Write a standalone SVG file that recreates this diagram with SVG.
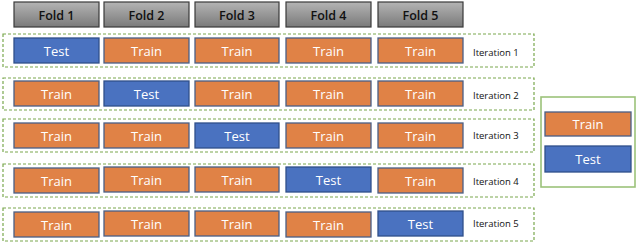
<svg xmlns="http://www.w3.org/2000/svg" width="640" height="245" viewBox="0 0 640 245">
<defs>
<linearGradient id="hg" x1="0" y1="0" x2="0" y2="1">
<stop offset="0" stop-color="#b4b4b4"/>
<stop offset="1" stop-color="#7a7a7a"/>
</linearGradient>
</defs>
<style>
.hdr{fill:url(#hg);stroke:#3a3a3a;stroke-width:1.2}
.htx{font-family:"Open Sans","Liberation Sans",sans-serif;font-size:12.5px;font-weight:600;fill:#111;text-anchor:middle;dominant-baseline:central}
.tr{fill:#e08246;stroke:#4a5f86;stroke-width:1.3}
.te{fill:#4a72c0;stroke:#2f4f8a;stroke-width:1.3}
.ctx{font-family:"Open Sans","Liberation Sans",sans-serif;font-size:13px;fill:#fff;text-anchor:middle;dominant-baseline:central}
.itx{font-family:"Open Sans","Liberation Sans",sans-serif;font-size:9.5px;fill:#111;dominant-baseline:central}
.dash{fill:none;stroke:#7aa84e;stroke-width:1.2;stroke-dasharray:3,2}
.leg{fill:#fff;stroke:#9cc27a;stroke-width:1.6}
</style>
<g id="headers">
<g id="fold1"><rect class="hdr" x="14" y="2" width="85" height="25"/><text class="htx" x="56.5" y="15">Fold 1</text></g>
<g id="fold2"><rect class="hdr" x="104" y="2" width="85" height="25"/><text class="htx" x="146.5" y="15">Fold 2</text></g>
<g id="fold3"><rect class="hdr" x="195" y="2" width="84" height="25"/><text class="htx" x="237" y="15">Fold 3</text></g>
<g id="fold4"><rect class="hdr" x="286" y="2" width="85" height="25"/><text class="htx" x="328.5" y="15">Fold 4</text></g>
<g id="fold5"><rect class="hdr" x="378" y="2" width="85" height="25"/><text class="htx" x="420.5" y="15">Fold 5</text></g>
</g>
<g id="iteration1">
<rect class="dash" x="3" y="34" width="531" height="33"/>
<rect class="te" x="14" y="38" width="85" height="25"/><text class="ctx" x="56.5" y="51">Test</text>
<rect class="tr" x="104" y="38" width="85" height="25"/><text class="ctx" x="146.5" y="51">Train</text>
<rect class="tr" x="195" y="38" width="84" height="25"/><text class="ctx" x="237" y="51">Train</text>
<rect class="tr" x="286" y="38" width="85" height="25"/><text class="ctx" x="328.5" y="51">Train</text>
<rect class="tr" x="378" y="38" width="85" height="25"/><text class="ctx" x="420.5" y="51">Train</text>
<text class="itx" x="473" y="52">Iteration 1</text>
</g>
<g id="iteration2">
<rect class="dash" x="3" y="78" width="531" height="32"/>
<rect class="tr" x="14" y="81" width="85" height="25"/><text class="ctx" x="56.5" y="94">Train</text>
<rect class="te" x="104" y="81" width="85" height="25"/><text class="ctx" x="146.5" y="94">Test</text>
<rect class="tr" x="195" y="81" width="84" height="25"/><text class="ctx" x="237" y="94">Train</text>
<rect class="tr" x="286" y="81" width="85" height="25"/><text class="ctx" x="328.5" y="94">Train</text>
<rect class="tr" x="378" y="81" width="85" height="25"/><text class="ctx" x="420.5" y="94">Train</text>
<text class="itx" x="473" y="95">Iteration 2</text>
</g>
<g id="iteration3">
<rect class="dash" x="3" y="119" width="531" height="33"/>
<rect class="tr" x="14" y="123" width="85" height="25"/><text class="ctx" x="56.5" y="136">Train</text>
<rect class="tr" x="104" y="123" width="85" height="25"/><text class="ctx" x="146.5" y="136">Train</text>
<rect class="te" x="195" y="123" width="84" height="25"/><text class="ctx" x="237" y="136">Test</text>
<rect class="tr" x="286" y="123" width="85" height="25"/><text class="ctx" x="328.5" y="136">Train</text>
<rect class="tr" x="378" y="123" width="85" height="25"/><text class="ctx" x="420.5" y="136">Train</text>
<text class="itx" x="473" y="135">Iteration 3</text>
</g>
<g id="iteration4">
<rect class="dash" x="3" y="164" width="531" height="33"/>
<rect class="tr" x="14" y="168" width="85" height="25"/><text class="ctx" x="56.5" y="181">Train</text>
<rect class="tr" x="104" y="167" width="85" height="25"/><text class="ctx" x="146.5" y="180">Train</text>
<rect class="tr" x="195" y="167" width="84" height="25"/><text class="ctx" x="237" y="180">Train</text>
<rect class="te" x="286" y="167" width="85" height="25"/><text class="ctx" x="328.5" y="180">Test</text>
<rect class="tr" x="378" y="168" width="85" height="25"/><text class="ctx" x="420.5" y="181">Train</text>
<text class="itx" x="473" y="181">Iteration 4</text>
</g>
<g id="iteration5">
<rect class="dash" x="3" y="208" width="531" height="33"/>
<rect class="tr" x="14" y="212" width="85" height="25"/><text class="ctx" x="56.5" y="225">Train</text>
<rect class="tr" x="104" y="211" width="85" height="25"/><text class="ctx" x="146.5" y="224">Train</text>
<rect class="tr" x="195" y="211" width="84" height="25"/><text class="ctx" x="237" y="224">Train</text>
<rect class="tr" x="286" y="212" width="85" height="25"/><text class="ctx" x="328.5" y="225">Train</text>
<rect class="te" x="378" y="211" width="85" height="25"/><text class="ctx" x="420.5" y="224">Test</text>
<text class="itx" x="473" y="223">Iteration 5</text>
</g>
<g id="legend">
<rect class="leg" x="541" y="97" width="94" height="90"/>
<rect class="tr" x="545" y="112" width="86" height="24"/><text class="ctx" x="588" y="124">Train</text>
<rect class="te" x="545" y="146" width="86" height="26"/><text class="ctx" x="588" y="159">Test</text>
</g>
<g id="connectors"/>
</svg>
